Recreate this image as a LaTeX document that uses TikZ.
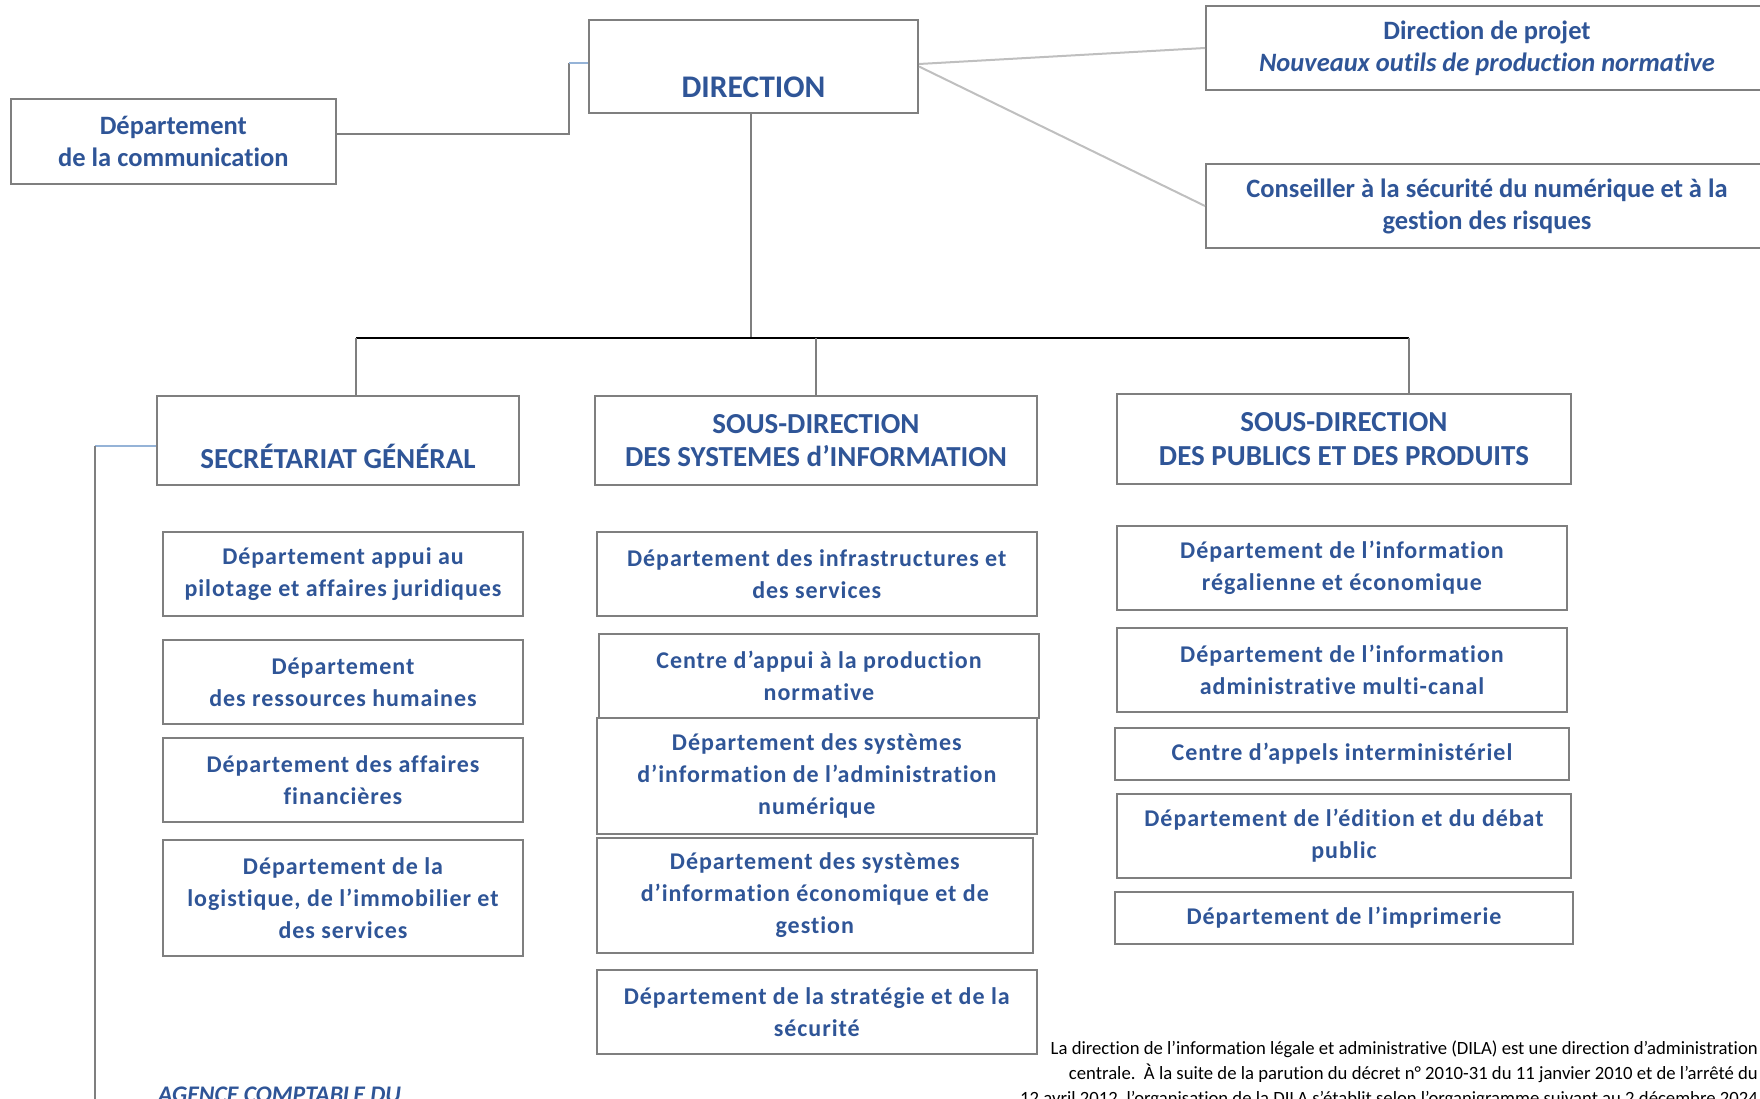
\documentclass[tikz,border=0pt]{standalone}
\usepackage{fontspec}
\setmainfont{Carlito}[Ligatures=NoCommon]
\newfontfamily\deptfont[LetterSpace=4, Ligatures=NoCommon]{Carlito}
\definecolor{dilablue}{HTML}{2F5597}
\definecolor{boxgray}{HTML}{7F7F7F}
\definecolor{lightline}{HTML}{BFBFBF}
\definecolor{linkblue}{HTML}{95B3D7}

\begin{document}
\begin{tikzpicture}[x=1pt, y=-1pt,
	size/.style 2 args={minimum width=#1pt, minimum height=#2pt},
	box/.style={draw=boxgray, line width=2pt, inner sep=0pt, align=center, text=dilablue},
	topbox/.style={box, font=\fontsize{26.5}{32}\selectfont\bfseries},
	headbox/.style={box, font=\fontsize{29}{33.5}\selectfont\bfseries},
	deptbox/.style={box, font=\deptfont\fontsize{24}{32}\selectfont\bfseries},
	link/.style={draw=boxgray, line width=2pt},
	bluelink/.style={draw=linkblue, line width=2pt},
	greylink/.style={draw=lightline, line width=2pt},
	busline/.style={draw=black, line width=1.5pt}]
	\clip (0,0) rectangle (1760,1099);

	% direction et rattachements
	\node[box, size={329}{93}, label={[text=dilablue, font=\fontsize{31.5}{36}\selectfont\bfseries, yshift=-20.5pt]center:DIRECTION}] (DIR) at (753.5,66.5) {};
	\node[topbox, size={324.6}{84.7}] (COMM) at (173.3,141.7) {Département\\de la communication};
	\node[topbox, size={562}{84}] (PROJ) at (1487,48) {Direction de projet\\\textit{Nouveaux outils de production normative}};
	\node[topbox, size={562}{84}] (CONS) at (1487,206) {Conseiller à la sécurité du numérique et à la\\gestion des risques};

	% sous-directions
	\node[box, size={362}{89.5}, label={[text=dilablue, font=\fontsize{29}{33.5}\selectfont\bfseries, yshift=-15.6pt]center:SECRÉTARIAT GÉNÉRAL}] (SG) at (338,440.7) {};
	\node[headbox, size={442}{89.5}] (SDSI) at (816,440.7) {SOUS-DIRECTION\\DES SYSTEMES d’INFORMATION};
	\node[headbox, size={454}{90}] (SDPP) at (1344,439) {SOUS-DIRECTION\\DES PUBLICS ET DES PRODUITS};

	% secretariat general
	\node[deptbox, size={360}{84}] (SG_1) at (343,574) {Département appui au\\pilotage et affaires juridiques};
	\node[deptbox, size={360}{84}] (SG_2) at (343,682) {Département\\des ressources humaines};
	\node[deptbox, size={360}{84}] (SG_3) at (343,780) {Département des affaires\\financières};
	\node[deptbox, size={360}{116}] (SG_4) at (343,898) {Département de la\\logistique, de l’immobilier et\\des services};

	% systemes d'information
	\node[deptbox, size={440.5}{84}] (SI_1) at (816.8,574) {Département des infrastructures et\\des services};
	\node[deptbox, size={440}{84}] (SI_2) at (819,676) {Centre d’appui à la production\\normative};
	\node[deptbox, size={440.5}{116}] (SI_3) at (816.8,776) {Département des systèmes\\d’information de l’administration\\numérique};
	\node[deptbox, size={436.5}{115}] (SI_4) at (814.8,895.5) {Département des systèmes\\d’information économique et de\\gestion};
	\node[deptbox, size={440.5}{84}] (SI_5) at (816.8,1012) {Département de la stratégie et de la\\sécurité};

	% publics et produits
	\node[deptbox, size={450}{84}] (PP_1) at (1342,568) {Département de l’information\\régalienne et économique};
	\node[deptbox, size={450}{84}] (PP_2) at (1342,670) {Département de l’information\\administrative multi-canal};
	\node[deptbox, size={454}{52}] (PP_3) at (1342,754) {Centre d’appels interministériel};
	\node[deptbox, size={454}{84}] (PP_4) at (1344,836) {Département de l’édition et du débat\\public};
	\node[deptbox, size={458}{52}] (PP_5) at (1344,918) {Département de l’imprimerie};

	\node[anchor=base west, inner sep=0pt, text=dilablue, font=\fontsize{23.8}{28}\selectfont\bfseries\itshape] (AGENCE) at (158,1102) {AGENCE COMPTABLE DU};
	\node[anchor=north east, align=right, inner sep=0pt, font=\fontsize{18.7}{25}\selectfont] (NOTE) at (1758,1041) {La direction de l’information légale et administrative (DILA) est une direction d’administration\\centrale.\ \ À la suite de la parution du décret n° 2010-31 du 11 janvier 2010 et de l’arrêté du\\12 avril 2012, l’organisation de la DILA s’établit selon l’organigramme suivant au 2 décembre 2024};

	% liaisons
	\coordinate (C_1) at (569,134);
	\coordinate (C_2) at (569,63);
	\coordinate (BUS_L) at (356,338);
	\coordinate (BUS_M) at (751,338);
	\coordinate (BUS_R) at (1409,338);
	\coordinate (AG_1) at (95,446);
	\coordinate (AG_2) at (95,1110);

	\draw[link] (COMM.east |- C_1) -- (C_1) -- (C_2);
	\draw[bluelink] (C_2) -- (C_2 -| DIR.west);
	\draw[greylink] ([yshift=2.5pt]DIR.east) -- (PROJ.west);
	\draw[greylink] (DIR.east) -- (CONS.west);
	\draw[link] (BUS_M |- DIR.south) -- (BUS_M);
	\draw[busline] (BUS_L) -- (BUS_R);
	\draw[link] (BUS_L) -- (BUS_L |- SG.north);
	\draw[link] (SDSI.north) -- (SDSI.north |- BUS_L);
	\draw[link] (BUS_R) -- (BUS_R |- SDPP.north);
	\draw[bluelink] (SG.west |- AG_1) -- (AG_1);
	\draw[link] (AG_1) -- (AG_2);
\end{tikzpicture}
\end{document}
